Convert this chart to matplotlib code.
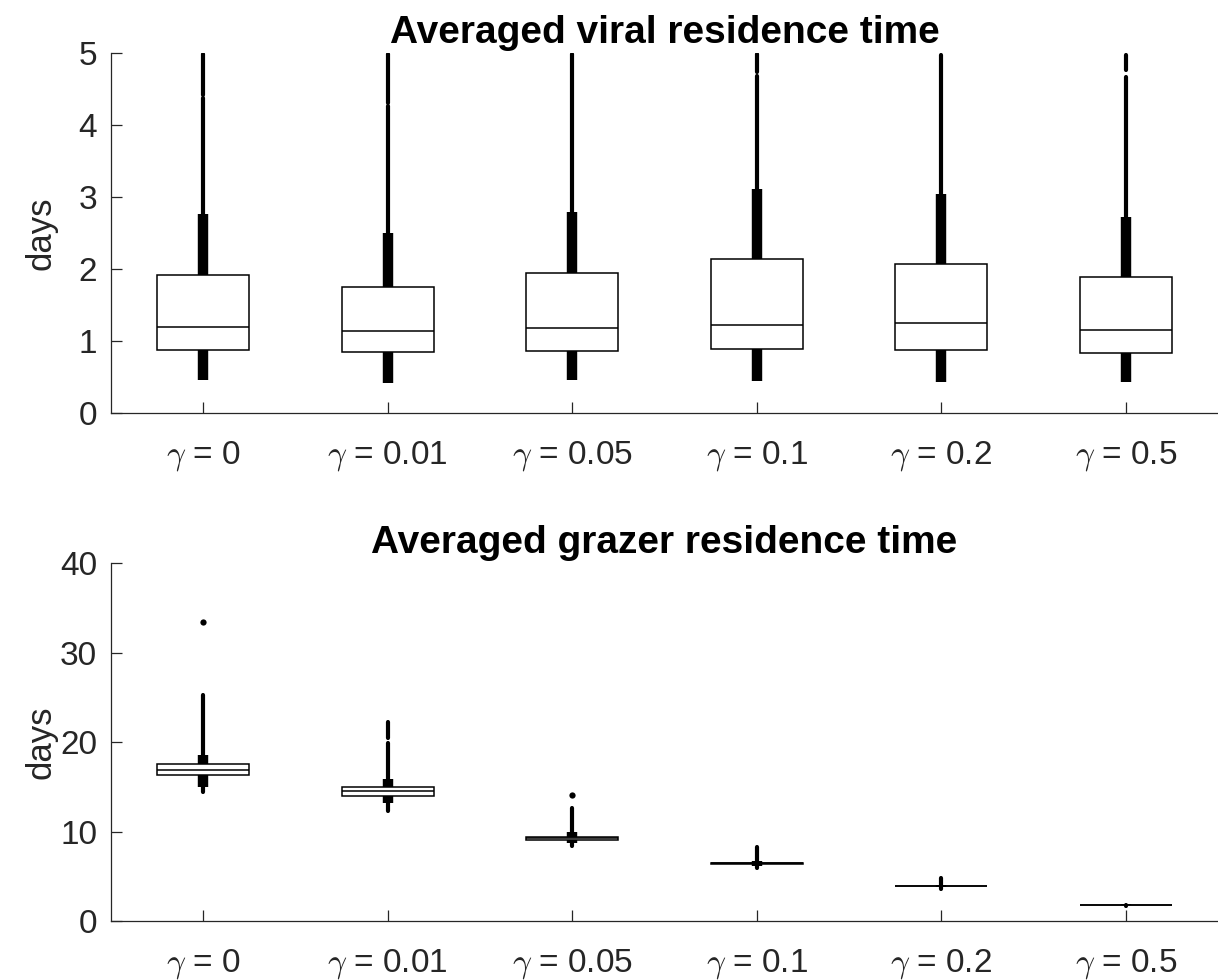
import matplotlib
matplotlib.use("Agg")
import matplotlib.pyplot as plt

plt.rcParams['font.family'] = ['Liberation Sans', 'DejaVu Sans']
plt.rcParams['mathtext.fontset'] = 'cm'

gammas = ['0', '0.01', '0.05', '0.1', '0.2', '0.5']
tick_labels = [r'$\gamma$ = ' + g for g in gammas]

# viral residence time (days): box quartiles, whisker ends, outlier ranges
viral_q1 = [0.875, 0.847, 0.865, 0.885, 0.875, 0.83]
viral_med = [1.20, 1.143, 1.176, 1.22, 1.245, 1.148]
viral_q3 = [1.92, 1.745, 1.94, 2.14, 2.07, 1.885]
viral_lo = [0.46, 0.42, 0.46, 0.44, 0.435, 0.425]
viral_hi = [2.76, 2.50, 2.79, 3.11, 3.04, 2.72]
viral_out_bands = [
    [(2.76, 4.38), (4.42, 4.99)],
    [(2.50, 4.26), (4.30, 4.99)],
    [(2.79, 4.99)],
    [(3.11, 4.68), (4.74, 4.99)],
    [(3.04, 4.97)],
    [(2.72, 4.67), (4.77, 4.97)],
]
viral_out_pts = [[], [], [], [], [], []]

# grazer residence time (days)
grazer_q1 = [16.31, 14.00, 9.05, 6.39, 3.89, 1.78]
grazer_med = [16.87, 14.49, 9.22, 6.43, 3.91, 1.79]
grazer_q3 = [17.54, 14.93, 9.41, 6.47, 3.93, 1.80]
grazer_lo = [15.0, 13.13, 8.74, 6.15, 3.78, 1.74]
grazer_hi = [18.6, 15.83, 9.98, 6.75, 4.05, 1.85]
grazer_out_bands = [
    [(18.6, 25.25), (14.44, 15.0)],
    [(15.83, 19.84), (20.4, 22.2), (12.3, 13.13)],
    [(9.98, 12.6), (8.38, 8.74)],
    [(6.75, 8.3), (5.88, 6.15)],
    [(4.05, 4.77), (3.58, 3.78)],
    [(1.85, 1.95), (1.70, 1.74)],
]
grazer_out_pts = [[33.4], [], [14.08], [], [], []]

gray = '#262626'


def draw_panel(ax, q1, med, q3, lo, hi, bands, pts, title, ylim, yticks):
    stats = []
    for i in range(len(q1)):
        stats.append(dict(med=med[i], q1=q1[i], q3=q3[i],
                          whislo=lo[i], whishi=hi[i], fliers=[]))
    pos = list(range(1, len(q1) + 1))
    # dense outlier columns
    for p, bl, pl in zip(pos, bands, pts):
        for a, b in bl:
            ax.plot([p, p], [a, b], color='black', lw=3.0,
                    solid_capstyle='round', zorder=1)
        if pl:
            ax.plot([p] * len(pl), pl, 'o', color='black', ms=4.5,
                    mec='none', zorder=1)
    bp = ax.bxp(stats, positions=pos, widths=0.5, showcaps=False,
                showfliers=False, patch_artist=True,
                boxprops=dict(facecolor='white', edgecolor='black', lw=1.1),
                medianprops=dict(color='black', lw=1.1),
                whiskerprops=dict(color='black', lw=7.5,
                                  solid_capstyle='butt'))
    for b in bp['boxes']:
        b.set_zorder(3)
    for m in bp['medians']:
        m.set_zorder(4)
    ax.set_xlim(0.5, 6.5)
    ax.set_ylim(*ylim)
    ax.set_yticks(yticks)
    ax.set_xticks(pos)
    ax.set_xticklabels(tick_labels)
    ax.set_title(title, fontsize=28, fontweight='bold', pad=7)
    ax.set_ylabel('days', fontsize=25, color=gray)
    ax.yaxis.set_label_coords(-0.048, 0.5)
    ax.spines['top'].set_visible(False)
    ax.spines['right'].set_visible(False)
    for s in ('left', 'bottom'):
        ax.spines[s].set_color(gray)
        ax.spines[s].set_linewidth(0.9)
    ax.tick_params(axis='y', direction='in', length=8, width=0.9,
                   color=gray, labelcolor=gray, labelsize=24, pad=10)
    ax.tick_params(axis='x', direction='in', length=8, width=0.9,
                   color=gray, labelcolor=gray, labelsize=24, pad=19)


fig = plt.figure(figsize=(12.18, 9.8), dpi=100)
ax1 = fig.add_axes([0.0911, 0.5786, 0.9089, 0.3673])
ax2 = fig.add_axes([0.0911, 0.0602, 0.9089, 0.3653])

draw_panel(ax1, viral_q1, viral_med, viral_q3, viral_lo, viral_hi,
           viral_out_bands, viral_out_pts,
           'Averaged viral residence time', (0, 5), [0, 1, 2, 3, 4, 5])
draw_panel(ax2, grazer_q1, grazer_med, grazer_q3, grazer_lo, grazer_hi,
           grazer_out_bands, grazer_out_pts,
           'Averaged grazer residence time', (0, 40), [0, 10, 20, 30, 40])

fig.savefig('out.png', dpi=100)
